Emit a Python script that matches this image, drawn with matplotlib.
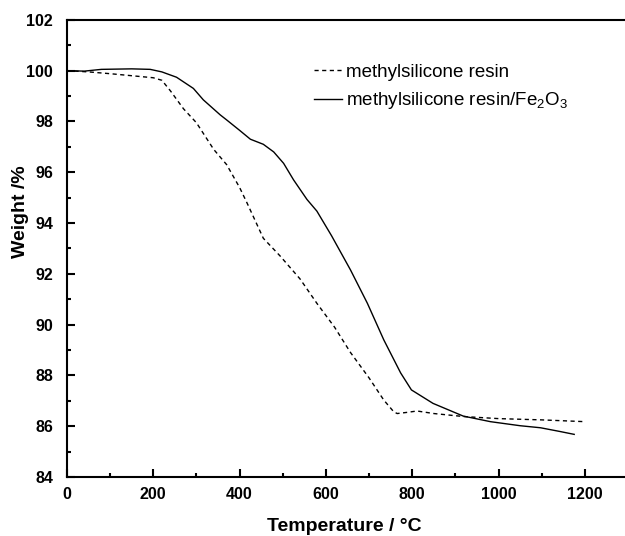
import numpy as np
import matplotlib
matplotlib.use("Agg")
import matplotlib.pyplot as plt
from matplotlib.ticker import MultipleLocator

plt.rcParams["font.family"] = ["Liberation Sans", "DejaVu Sans"]
plt.rcParams["mathtext.fontset"] = "custom"
plt.rcParams["mathtext.rm"] = "Liberation Sans"
plt.rcParams["mathtext.it"] = "Liberation Sans:italic"
plt.rcParams["mathtext.bf"] = "Liberation Sans:bold"

# TGA curve, methylsilicone resin (dashed)
resin_temp = [0, 50, 100, 150, 200, 220, 240, 270, 300, 340, 370, 400, 417,
              455, 494, 540, 579, 620, 657, 700, 734, 757, 765, 790, 811,
              850, 920, 1000, 1100, 1200]
resin_wt = [100.0, 99.95, 99.88, 99.8, 99.72, 99.62, 99.2, 98.5, 97.95, 96.9,
            96.3, 95.4, 94.8, 93.4, 92.7, 91.8, 90.84, 89.9, 88.9, 87.9,
            87.03, 86.57, 86.5, 86.55, 86.6, 86.5, 86.38, 86.3, 86.25, 86.18]

# TGA curve, methylsilicone resin/Fe2O3 (solid)
comp_temp = [0, 40, 80, 150, 193, 220, 254, 293, 316, 355, 370, 400, 425,
             455, 479, 502, 525, 556, 579, 613, 657, 696, 734, 773, 798,
             848, 918, 981, 1050, 1097, 1140, 1175]
comp_wt = [100.0, 99.98, 100.05, 100.07, 100.05, 99.95, 99.74, 99.3, 98.85,
           98.26, 98.06, 97.65, 97.3, 97.1, 96.8, 96.35, 95.7, 94.93, 94.47,
           93.5, 92.15, 90.84, 89.4, 88.1, 87.43, 86.9, 86.4, 86.18, 86.02,
           85.94, 85.8, 85.68]

fig = plt.figure(figsize=(6.25, 5.36), dpi=100)
ax = fig.add_axes([0.107, 0.110, 0.896, 0.853])

ax.plot(resin_temp, resin_wt, color="black", lw=1.0, ls=(0, (3, 2.5)),
        label="methylsilicone resin")
ax.plot(comp_temp, comp_wt, color="black", lw=1.0,
        label="methylsilicone resin/Fe$_2$O$_3$")

ax.set_xlim(0, 1297)
ax.set_ylim(84, 102)
ax.xaxis.set_major_locator(MultipleLocator(200))
ax.xaxis.set_minor_locator(MultipleLocator(100))
ax.yaxis.set_major_locator(MultipleLocator(2))
ax.yaxis.set_minor_locator(MultipleLocator(1))
ax.tick_params(which="both", direction="in", width=1.5, top=False, right=False)
ax.tick_params(which="major", length=6, labelsize=11.5)
ax.tick_params(which="minor", length=3)
ax.tick_params(axis="x", which="major", pad=7)
ax.tick_params(axis="y", which="major", pad=10)
for lab in ax.get_xticklabels() + ax.get_yticklabels():
    lab.set_fontweight("bold")
for s in ["left", "bottom", "top"]:
    ax.spines[s].set_linewidth(1.5)
ax.spines["right"].set_visible(False)

ax.set_xlabel("Temperature / \u00b0C", fontsize=14, fontweight="bold")
ax.set_ylabel("Weight /%", fontsize=14, fontweight="bold")
ax.xaxis.set_label_coords(0.496, -0.090)
ax.yaxis.set_label_coords(-0.068, 0.58)

ax.legend(loc="upper left", bbox_to_anchor=(0.503, 0.881), bbox_transform=fig.transFigure,
          frameon=False, fontsize=13.5, handlelength=1.45, handletextpad=0.25,
          labelspacing=0.5, borderpad=0, borderaxespad=0)

fig.savefig("out.png", dpi=100)
